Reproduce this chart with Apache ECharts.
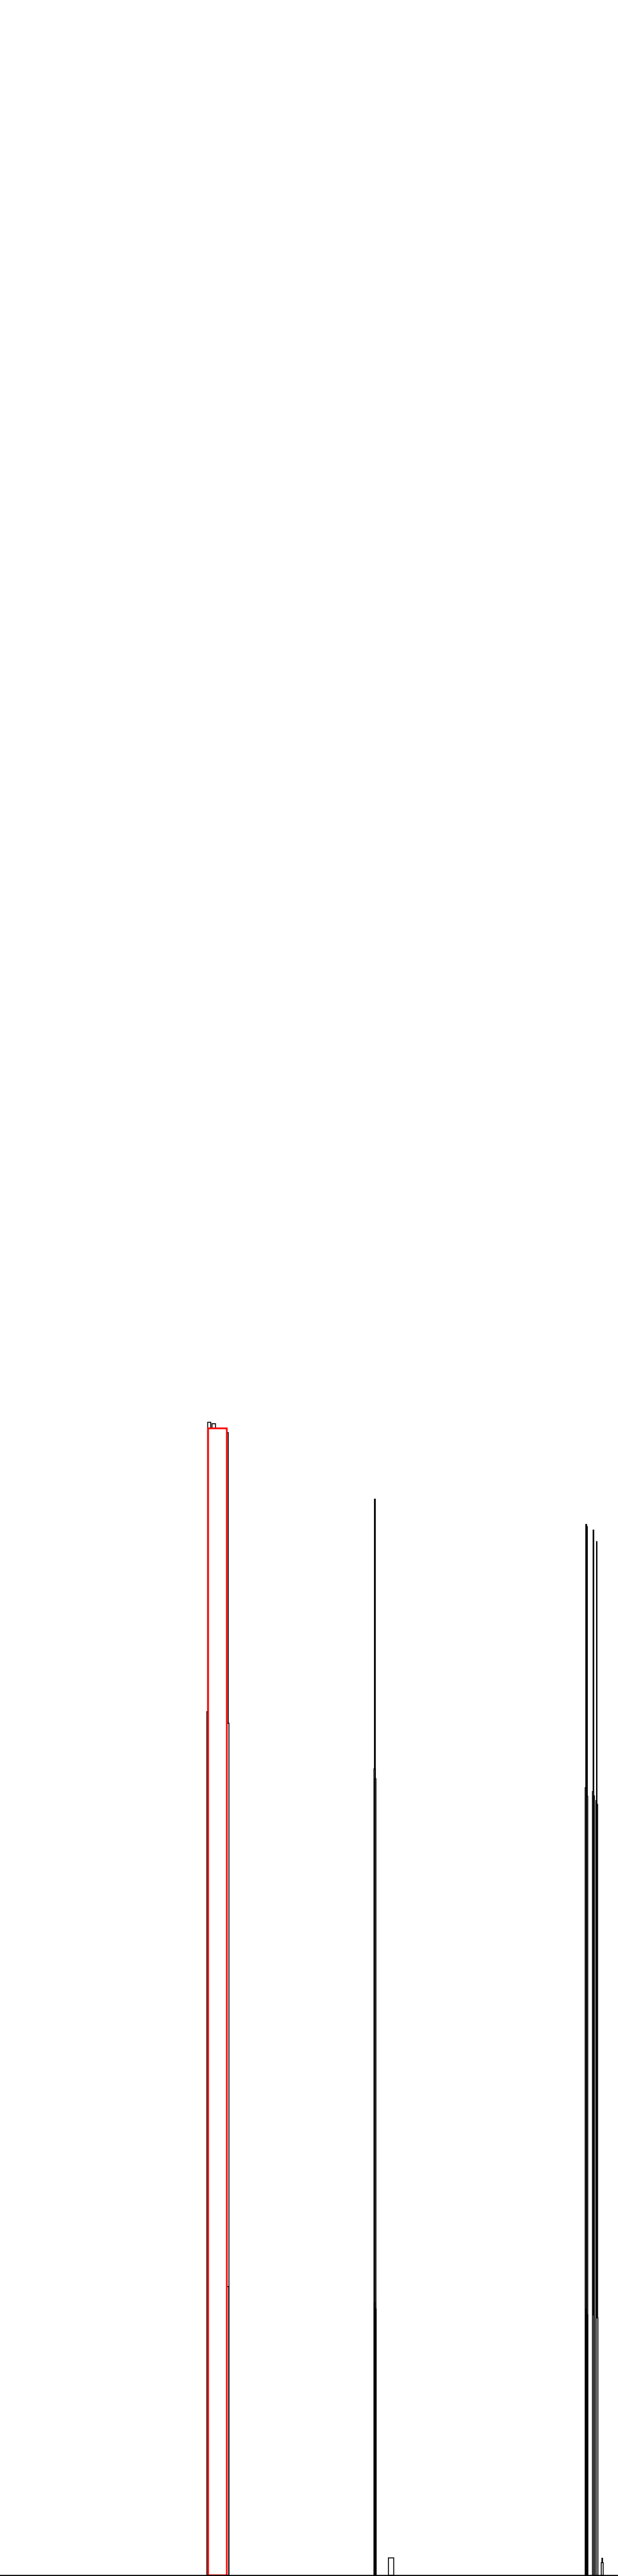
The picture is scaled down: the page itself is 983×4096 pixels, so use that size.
<!DOCTYPE html>
<html>
<head>
<meta charset="utf-8">
<script src="https://cdn.jsdelivr.net/npm/echarts@6/dist/echarts.min.js"></script>
<style>
html,body{margin:0;padding:0;background:#fff;}
#chart{width:983px;height:4096px;}
</style>
</head>
<body>
<div id="chart"></div>
<script>
// Bin edges (x units) and bar heights (y units)
const binStarts = [484, 494, 502, 482, 505, 495,
                   872.5, 871.5, 873.5, 872, 874.3, 905,
                   1365, 1367.5, 1382, 1390, 1363.5, 1380.5, 1367, 1383, 1388.5, 1390.5,
                   1364.5, 1367.5, 1381, 1389, 1402.5, 1401];
const binEnds   = [491, 502, 532, 505, 533.5, 533,
                   874.5, 874, 876, 874.3, 876.5, 917.5,
                   1367, 1368.5, 1383.5, 1391, 1366, 1383, 1369.5, 1385, 1390.5, 1392.5,
                   1366.5, 1369.5, 1384, 1393, 1404, 1405.5];
const heights   = [2685.5, 2682.5, 2661.5, 2011.5, 1984.5, 672.5,
                   2506.5, 1878.5, 1855.5, 635.5, 620.5, 40.5,
                   2447.5, 2442.5, 2434.5, 2407.5, 1834.5, 1825.5, 1814.5, 1815.5, 1804.5, 1795.5,
                   619.5, 606.5, 606.5, 599.5, 39.5, 29.5];
// Highlighted bin
const highlightStart = [485];
const highlightEnd = [528.5];
const highlightHeight = [2671.5];

const xMin = 0, xMax = 1440;
const yMax = 5998.5;

const mainData = binStarts.map((s, i) => [s, binEnds[i], heights[i]]);
const redData = highlightStart.map((s, i) => [s, highlightEnd[i], highlightHeight[i]]);

function makeRender(stroke, lw) {
  return function (params, api) {
    const x0 = api.value(0), x1 = api.value(1), h = api.value(2);
    const p0 = api.coord([x0, h]);
    const p1 = api.coord([x1, 0]);
    return {
      type: 'rect',
      shape: { x: p0[0], y: p0[1], width: p1[0] - p0[0], height: p1[1] - p0[1] },
      style: { fill: '#ffffff', stroke: stroke, lineWidth: lw }
    };
  };
}

const chart = echarts.init(document.getElementById('chart'), null, { renderer: 'canvas' });
chart.setOption({
  animation: false,
  backgroundColor: '#ffffff',
  grid: { left: 0, right: 0, top: 0, bottom: 1.2, containLabel: false },
  xAxis: {
    type: 'value', min: xMin, max: xMax, z: 10,
    axisLine: { show: true, onZero: false, lineStyle: { color: '#000', width: 2.5 } },
    axisTick: { show: false }, axisLabel: { show: false }, splitLine: { show: false }
  },
  yAxis: {
    type: 'value', min: 0, max: yMax,
    axisLine: { show: false }, axisTick: { show: false }, axisLabel: { show: false }, splitLine: { show: false }
  },
  series: [
    { type: 'custom', renderItem: makeRender('#000000', 1.5), data: mainData, encode: { x: [0, 1], y: 2 }, z: 2 },
    { type: 'custom', renderItem: makeRender('#ff0000', 2.6), data: redData, encode: { x: [0, 1], y: 2 }, z: 3 }
  ]
});
</script>
</body>
</html>
